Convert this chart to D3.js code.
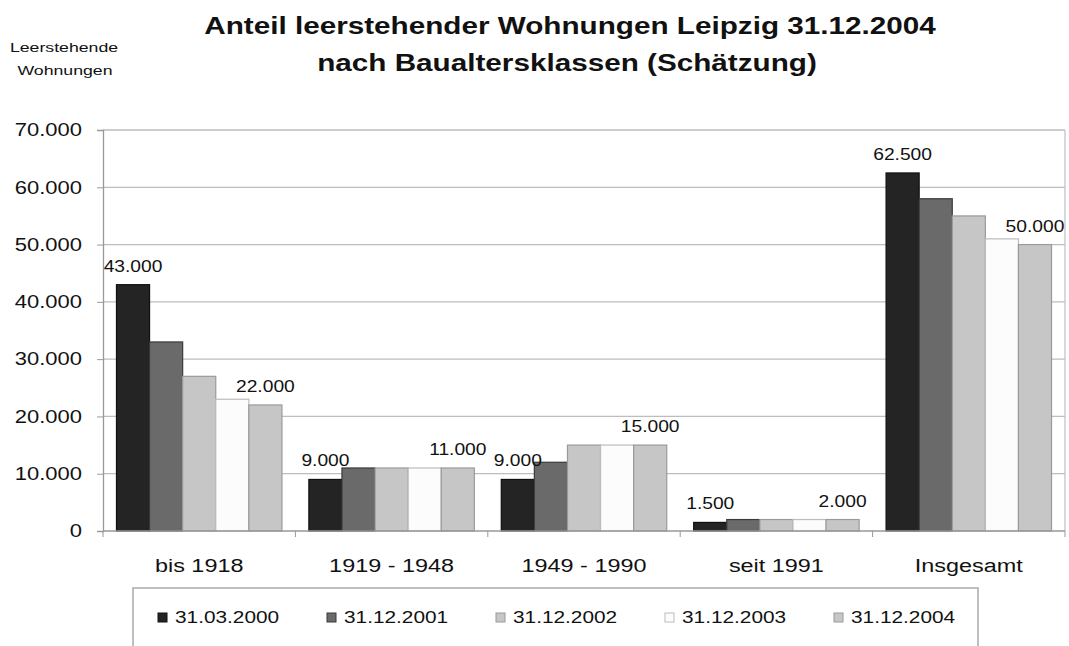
<!DOCTYPE html>
<html>
<head>
<meta charset="utf-8">
<script src="https://cdn.jsdelivr.net/npm/d3@7"></script>
<style>
  body { margin: 0; background: #fff; }
  text { font-family: "Liberation Sans", Arial, sans-serif; fill: #111; }
</style>
</head>
<body>
<svg id="chart" width="1069" height="646"></svg>
<script>
// data
const categories = ["bis 1918", "1919 - 1948", "1949 - 1990", "seit 1991", "Insgesamt"];
const seriesNames = ["31.03.2000", "31.12.2001", "31.12.2002", "31.12.2003", "31.12.2004"];
const v2000 = [43000, 9000, 9000, 1500, 62500];
const v2001 = [33000, 11000, 12000, 2000, 58000];
const v2002 = [27000, 11000, 15000, 2000, 55000];
const v2003 = [23000, 11000, 15000, 2000, 51000];
const v2004 = [22000, 11000, 15000, 2000, 50000];
const yTicks = [0, 10000, 20000, 30000, 40000, 50000, 60000, 70000];

const series = [v2000, v2001, v2002, v2003, v2004];
const fills = ["#242424", "#6a6a6a", "#c6c6c6", "#fcfcfc", "#c6c6c6"];
const strokes = ["#111", "#3a3a3a", "#9a9a9a", "#bcbcbc", "#9a9a9a"];

const de = d3.formatLocale({decimal: ",", thousands: ".", grouping: [3], currency: ["", " €"]});
const fmt = de.format(",d");

const svg = d3.select("#chart");
const margin = {top: 130, right: 4, bottom: 115, left: 103};
const width = 1069 - margin.left - margin.right,
      height = 646 - margin.top - margin.bottom;

// stretch text horizontally like the original (scanned image is wider)
function stretch(sel, k) {
  sel.each(function() {
    const len = this.getComputedTextLength();
    d3.select(this).attr("textLength", len * k).attr("lengthAdjust", "spacingAndGlyphs");
  });
}

// title
const title = svg.append("g").attr("text-anchor", "middle");
title.append("text").attr("x", 570).attr("y", 34).style("font-weight", "bold").style("font-size", "23px")
  .text("Anteil leerstehender Wohnungen Leipzig 31.12.2004");
title.append("text").attr("x", 567).attr("y", 71).style("font-weight", "bold").style("font-size", "23px")
  .text("nach Baualtersklassen (Schätzung)");
stretch(title.selectAll("text"), 1.29);

const ylab = svg.append("g").attr("text-anchor", "middle").style("font-size", "13px");
ylab.append("text").attr("x", 64).attr("y", 52).text("Leerstehende");
ylab.append("text").attr("x", 65).attr("y", 75).text("Wohnungen");
stretch(ylab.selectAll("text"), 1.36);

const g = svg.append("g").attr("transform", `translate(${margin.left},${margin.top})`);

const x = d3.scaleBand().domain(categories).range([0, width]).paddingInner(0.14).paddingOuter(0.07);
const x1 = d3.scaleBand().domain(d3.range(series.length)).range([0, x.bandwidth()]);
const y = d3.scaleLinear().domain([0, 70000]).range([height, 0]);

// gridlines
g.append("g").selectAll("line").data(yTicks.slice(1)).enter().append("line")
  .attr("x1", 0).attr("x2", width)
  .attr("y1", d => y(d)).attr("y2", d => y(d))
  .attr("stroke", "#bdbdbd").attr("stroke-width", 1.3);
g.append("line").attr("x1", width).attr("x2", width).attr("y1", 0).attr("y2", height)
  .attr("stroke", "#c4c4c4").attr("stroke-width", 1.3);

// bars
const groups = g.selectAll(".grp").data(categories).enter().append("g")
  .attr("class", "grp")
  .attr("transform", d => `translate(${x(d)},0)`);

groups.selectAll("rect").data((c, ci) => series.map((s, si) => ({si: si, v: s[ci]})))
  .enter().append("rect")
  .attr("x", d => x1(d.si))
  .attr("y", d => y(d.v))
  .attr("width", x1.bandwidth())
  .attr("height", d => height - y(d.v))
  .attr("fill", d => fills[d.si])
  .attr("stroke", d => strokes[d.si])
  .attr("stroke-width", 1.2);

// value labels on first and last bar
const lbl = groups.selectAll(".lbl").data((c, ci) => [0, series.length - 1].map(si => ({si: si, v: series[si][ci]})))
  .enter().append("text")
  .attr("class", "lbl")
  .attr("text-anchor", "middle")
  .attr("x", d => x1(d.si) + x1.bandwidth() / 2)
  .attr("y", d => y(d.v) - 13)
  .style("font-size", "16px")
  .text(d => fmt(d.v));
stretch(lbl, 1.2);

// y axis
const yAxis = g.append("g")
  .call(d3.axisLeft(y).tickValues(yTicks).tickSize(6).tickPadding(15).tickFormat(fmt));
yAxis.select(".domain").attr("stroke", "#999").attr("stroke-width", 1.3);
yAxis.selectAll(".tick line").attr("stroke", "#999");
yAxis.selectAll("text").style("font-size", "18px").attr("fill", "#111");
stretch(yAxis.selectAll("text"), 1.22);

// x axis
const xb = g.append("g").attr("transform", `translate(0,${height})`);
xb.append("line").attr("x1", 0).attr("x2", width).attr("stroke", "#999").attr("stroke-width", 1.3);
xb.selectAll(".tk").data(d3.range(categories.length + 1)).enter().append("line")
  .attr("x1", d => d * x.step()).attr("x2", d => d * x.step())
  .attr("y1", 0).attr("y2", 6).attr("stroke", "#999");
const xl = xb.selectAll(".cat").data(categories).enter().append("text")
  .attr("text-anchor", "middle")
  .attr("x", d => x(d) + x.bandwidth() / 2)
  .attr("y", 41)
  .style("font-size", "18px")
  .text(d => d);
stretch(xl, 1.3);

// legend
const lg = svg.append("g").attr("transform", "translate(133,588)");
lg.append("rect").attr("width", 845).attr("height", 80)
  .attr("fill", "#fff").attr("stroke", "#aaa").attr("stroke-width", 1.5);
const li = lg.selectAll(".li").data(seriesNames).enter().append("g")
  .attr("transform", (d, i) => `translate(${25 + i * 169},0)`);
li.append("rect").attr("x", 0).attr("y", 25).attr("width", 9).attr("height", 9)
  .attr("fill", (d, i) => fills[i]).attr("stroke", (d, i) => strokes[i]);
const lt = li.append("text").attr("x", 17).attr("y", 35).style("font-size", "16px").text(d => d);
stretch(lt, 1.3);
</script>
</body>
</html>
